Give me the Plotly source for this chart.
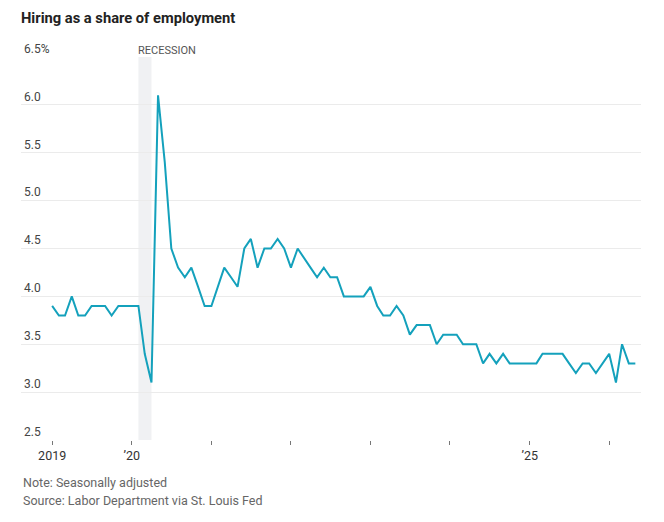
import pandas as pd
import plotly.graph_objects as go

# Hires rate, monthly, Jan 2019 onward (percent of employment)
hires_2019 = [3.9, 3.8, 3.8, 4.0, 3.8, 3.8, 3.9, 3.9, 3.9, 3.8, 3.9, 3.9]
hires_2020 = [3.9, 3.9, 3.4, 3.1, 6.1, 5.4, 4.5, 4.3, 4.2, 4.3, 4.1, 3.9]
hires_2021 = [3.9, 4.1, 4.3, 4.2, 4.1, 4.5, 4.6, 4.3, 4.5, 4.5, 4.6, 4.5]
hires_2022 = [4.3, 4.5, 4.4, 4.3, 4.2, 4.3, 4.2, 4.2, 4.0, 4.0, 4.0, 4.0]
hires_2023 = [4.1, 3.9, 3.8, 3.8, 3.9, 3.8, 3.6, 3.7, 3.7, 3.7, 3.5, 3.6]
hires_2024 = [3.6, 3.6, 3.5, 3.5, 3.5, 3.3, 3.4, 3.3, 3.4, 3.3, 3.3, 3.3]
hires_2025 = [3.3, 3.3, 3.4, 3.4, 3.4, 3.4, 3.3, 3.2, 3.3, 3.3, 3.2, 3.3]
hires_2026 = [3.4, 3.1, 3.5, 3.3, 3.3]

hires = hires_2019 + hires_2020 + hires_2021 + hires_2022 + hires_2023 + hires_2024 + hires_2025 + hires_2026
months = pd.date_range('2019-01-01', periods=len(hires), freq='MS')

ytick_vals = [2.5, 3.0, 3.5, 4.0, 4.5, 5.0, 5.5, 6.0, 6.5]
ytick_text = ['2.5', '3.0', '3.5', '4.0', '4.5', '5.0', '5.5', '6.0', '6.5%']
xtick_vals = [f'{y}-01-01' for y in range(2019, 2027)]
xtick_text = ['2019', '’20', '', '', '', '', '’25', '']

recession_start = '2020-02-01'
recession_end = '2020-04-01'

FONT = 'Roboto, sans-serif'

# page body has an 8px margin, so the figure is 16px smaller than the window
W, H = 648, 506

fig = go.Figure()
fig.add_trace(go.Scatter(x=months, y=hires, mode='lines',
                         line=dict(color='#14a1bc', width=2),
                         hoverinfo='skip', showlegend=False))

fig.add_vrect(x0=recession_start, x1=recession_end, fillcolor='#f0f1f3',
              line_width=0, layer='below')
fig.add_annotation(x=recession_start, y=1, xref='x', yref='paper',
                   text='RECESSION', showarrow=False, xanchor='left',
                   yanchor='bottom', yshift=-2, xshift=-2,
                   font=dict(family=FONT, size=11, color='#555'))

fig.update_layout(width=W, height=H,
                  margin=dict(l=13, r=15, t=49, b=74),
                  plot_bgcolor='white', paper_bgcolor='white',
                  font=dict(family=FONT, size=12.5, color='#333'))

fig.update_layout(title=dict(text='<b>Hiring as a share of employment</b>',
                             x=13 / W, xanchor='left', y=1 - 10 / H,
                             yanchor='middle',
                             font=dict(family=FONT, size=14.7, color='#222')))

fig.update_yaxes(range=[2.5, 6.5], tickvals=ytick_vals, ticktext=ytick_text,
                 ticklabelposition='inside top', ticklabeloverflow='allow',
                 showgrid=True, gridcolor='#ebebeb', gridwidth=1.2,
                 zeroline=False, showline=False, ticks='',
                 tickfont=dict(size=12, color='#444'))

fig.update_xaxes(type='date', range=['2018-08-11', '2026-05-27'],
                 tickvals=xtick_vals, ticktext=xtick_text,
                 ticks='outside', ticklen=4, tickcolor='#777', tickwidth=1,
                 showgrid=False, zeroline=False, showline=False,
                 tickfont=dict(size=12.5, color='#333'))

fig.add_annotation(x=0, y=-0.112, xref='paper', yref='paper',
                   text='Note: Seasonally adjusted', showarrow=False,
                   xanchor='left', yanchor='middle',
                   font=dict(family=FONT, size=12.5, color='#666'))
fig.add_annotation(x=0, y=-0.159, xref='paper', yref='paper',
                   text='Source: Labor Department via St. Louis Fed', showarrow=False,
                   xanchor='left', yanchor='middle',
                   font=dict(family=FONT, size=12.5, color='#666'))

fig.write_html('out.html')
